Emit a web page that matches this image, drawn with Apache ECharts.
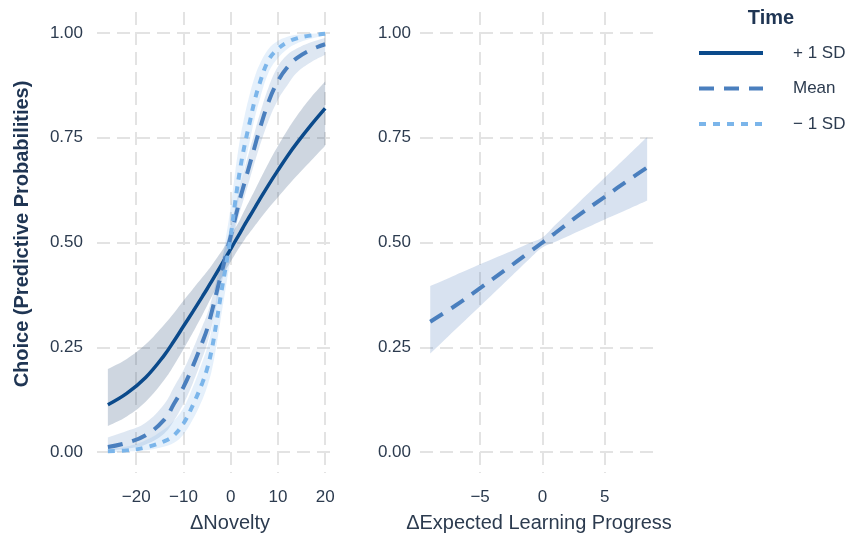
<!DOCTYPE html>
<html>
<head>
<meta charset="utf-8">
<script src="https://cdn.jsdelivr.net/npm/echarts@6/dist/echarts.min.js"></script>
<style>
  html, body { margin: 0; padding: 0; background: #ffffff; }
  #chart { width: 846px; height: 536px; }
</style>
</head>
<body>
<div id="chart"></div>
<script>
// ΔNovelty panel: predicted choice probability at three levels of Time
const noveltyX = [-26, -22, -18, -14, -12, -10, -8, -6, -5, -4, -3, -2, -1, 0, 1, 2, 3, 4, 5, 6, 8, 10, 12, 14, 17, 20];

const plusSD      = [0.113, 0.140, 0.178, 0.232, 0.265, 0.300, 0.335, 0.371, 0.389, 0.408, 0.427, 0.446, 0.465, 0.484, 0.504, 0.523, 0.543, 0.562, 0.581, 0.600, 0.637, 0.672, 0.706, 0.737, 0.780, 0.820];
const plusSDLower = [0.062, 0.085, 0.120, 0.173, 0.207, 0.245, 0.285, 0.327, 0.349, 0.371, 0.393, 0.414, 0.435, 0.454, 0.473, 0.491, 0.508, 0.523, 0.538, 0.553, 0.582, 0.608, 0.634, 0.659, 0.695, 0.731];
const plusSDUpper = [0.198, 0.222, 0.257, 0.305, 0.332, 0.361, 0.389, 0.417, 0.431, 0.446, 0.462, 0.478, 0.496, 0.514, 0.535, 0.555, 0.578, 0.600, 0.622, 0.645, 0.689, 0.730, 0.768, 0.802, 0.846, 0.884];

const meanNov      = [0.012, 0.022, 0.040, 0.078, 0.115, 0.155, 0.205, 0.262, 0.293, 0.335, 0.380, 0.425, 0.470, 0.515, 0.560, 0.605, 0.645, 0.685, 0.725, 0.765, 0.835, 0.885, 0.918, 0.940, 0.960, 0.973];
const meanNovLower = [0.004, 0.008, 0.018, 0.045, 0.075, 0.115, 0.165, 0.225, 0.258, 0.300, 0.350, 0.400, 0.445, 0.490, 0.533, 0.575, 0.612, 0.650, 0.688, 0.725, 0.790, 0.840, 0.875, 0.905, 0.930, 0.948];
const meanNovUpper = [0.035, 0.050, 0.070, 0.115, 0.155, 0.195, 0.245, 0.300, 0.328, 0.365, 0.410, 0.452, 0.495, 0.540, 0.587, 0.635, 0.678, 0.720, 0.760, 0.800, 0.870, 0.920, 0.948, 0.963, 0.978, 0.988];

const minusSD      = [0.002, 0.004, 0.011, 0.026, 0.040, 0.068, 0.112, 0.165, 0.198, 0.245, 0.310, 0.380, 0.445, 0.515, 0.600, 0.675, 0.735, 0.785, 0.835, 0.875, 0.935, 0.962, 0.978, 0.987, 0.994, 0.998];
const minusSDLower = [0.000, 0.001, 0.004, 0.013, 0.022, 0.042, 0.078, 0.125, 0.155, 0.195, 0.255, 0.325, 0.395, 0.465, 0.550, 0.625, 0.685, 0.740, 0.792, 0.835, 0.905, 0.940, 0.962, 0.975, 0.986, 0.994];
const minusSDUpper = [0.008, 0.013, 0.028, 0.055, 0.075, 0.105, 0.155, 0.215, 0.248, 0.295, 0.370, 0.445, 0.512, 0.585, 0.672, 0.748, 0.805, 0.852, 0.892, 0.922, 0.962, 0.981, 0.991, 0.996, 0.998, 1.000];

// ΔExpected Learning Progress panel (Time at its mean)
const elpX     = [-9, -7, -5, -3, -1, 0, 1, 3, 5, 7, 8.4];
const elpMean  = [0.311, 0.349, 0.391, 0.434, 0.478, 0.500, 0.522, 0.567, 0.609, 0.651, 0.679];
const elpLower = [0.235, 0.292, 0.348, 0.405, 0.462, 0.488, 0.501, 0.528, 0.555, 0.581, 0.600];
const elpUpper = [0.396, 0.422, 0.448, 0.473, 0.499, 0.512, 0.541, 0.598, 0.655, 0.712, 0.752];

// Tick labels
const yTicks       = [0, 0.25, 0.5, 0.75, 1];
const noveltyTicks = [-20, -10, 0, 10, 20];
const elpTicks     = [-5, 0, 5];
const legendNames  = ['+ 1 SD', 'Mean', '\u2212 1 SD'];

const FONT = '"Liberation Sans", Arial, Helvetica, sans-serif';
const TEXT = '#2c3b4f';
const TITLE = '#1f3553';
const GRID = { color: '#e3e3e3', width: 2, type: [13, 7] };

const COL_PLUS = '#0b4a8b';
const COL_MEAN = '#4a7fbe';
const COL_MINUS = '#7bb5ea';

const SMOOTH = 0.4;

function pairs(xs, ys) { return xs.map((x, i) => [x, ys[i]]); }

// Smooth open curve through pixel points (same tangent rule as ECharts' line smoothing)
function curvePath(pts, moveFirst) {
  const n = pts.length;
  let d = (moveFirst ? 'M' : 'L') + pts[0][0] + ' ' + pts[0][1];
  const cpPrev = [], cpNext = [];
  for (let i = 0; i < n; i++) {
    const p = pts[i];
    const prev = pts[Math.max(i - 1, 0)];
    const next = pts[Math.min(i + 1, n - 1)];
    const vx = next[0] - prev[0], vy = next[1] - prev[1];
    const lp = Math.hypot(p[0] - prev[0], p[1] - prev[1]);
    const ln = Math.hypot(next[0] - p[0], next[1] - p[1]);
    const r = (lp + ln) > 0 ? ln / (lp + ln) : 0.5;
    cpNext[i] = [p[0] + vx * SMOOTH * r, p[1] + vy * SMOOTH * r];
    cpPrev[i] = [p[0] - vx * SMOOTH * (1 - r), p[1] - vy * SMOOTH * (1 - r)];
  }
  for (let i = 0; i < n - 1; i++) {
    const a = cpNext[i], b = cpPrev[i + 1], q = pts[i + 1];
    d += 'C' + a[0] + ' ' + a[1] + ' ' + b[0] + ' ' + b[1] + ' ' + q[0] + ' ' + q[1];
  }
  return d;
}

// Confidence ribbon: a custom series whose first item draws the whole band
function band(gi, xs, lo, hi, fill) {
  return {
    type: 'custom', xAxisIndex: gi, yAxisIndex: gi, silent: true, z: 1,
    data: xs.map((x, i) => [x, lo[i], hi[i]]),
    encode: { x: 0, y: [1, 2] },
    renderItem: function (params, api) {
      if (params.dataIndex !== 0) return null;
      const upper = xs.map((x, i) => api.coord([x, hi[i]]));
      const lower = xs.map((x, i) => api.coord([x, lo[i]])).reverse();
      const d = curvePath(upper, true) + curvePath(lower, false) + 'Z';
      return { type: 'path', shape: { pathData: d }, style: { fill: fill, stroke: null } };
    }
  };
}

function curve(name, gi, xs, ys, color, width, dash) {
  return {
    name: name, type: 'line', xAxisIndex: gi, yAxisIndex: gi, data: pairs(xs, ys),
    symbol: 'none', showSymbol: false, smooth: SMOOTH, z: 3,
    itemStyle: { color: color },
    lineStyle: { color: color, width: width, type: dash, cap: 'butt' }
  };
}

function xAxisFor(gi, min, max, ticks) {
  return {
    type: 'value', gridIndex: gi, min: min, max: max,
    axisLine: { show: false },
    axisTick: { show: false, customValues: ticks },
    axisLabel: {
      customValues: ticks, margin: 16, fontSize: 17, color: TEXT, fontFamily: FONT,
      formatter: v => String(v).replace('-', '\u2212')
    },
    splitLine: { show: true, lineStyle: GRID }
  };
}

function yAxisFor(gi, margin) {
  return {
    type: 'value', gridIndex: gi, min: -0.05, max: 1.05,
    axisLine: { show: false },
    axisTick: { show: false, customValues: yTicks },
    axisLabel: {
      customValues: yTicks, margin: margin, fontSize: 17, color: TEXT, fontFamily: FONT,
      formatter: v => v.toFixed(2)
    },
    splitLine: { show: true, lineStyle: GRID }
  };
}

const chart = echarts.init(document.getElementById('chart'), null, { renderer: 'canvas' });

chart.setOption({
  animation: false,
  backgroundColor: '#ffffff',
  grid: [
    { left: 97, top: 12, width: 239, height: 461 },
    { left: 420, top: 12, width: 238, height: 461 }
  ],
  xAxis: [
    xAxisFor(0, -28.3, 22.3, noveltyTicks),
    xAxisFor(1, -9.82, 9.27, elpTicks)
  ],
  yAxis: [
    yAxisFor(0, 14),
    yAxisFor(1, 9)
  ],
  legend: {
    data: legendNames,
    orient: 'vertical',
    left: 692, top: 38,
    itemWidth: 64, itemHeight: 14, itemGap: 15.5,
    selectedMode: false,
    itemStyle: { color: 'rgba(0,0,0,0)', opacity: 0, borderWidth: 0 },
    lineStyle: { width: 4 },
    textStyle: { fontFamily: FONT, fontSize: 17, color: TEXT, lineHeight: 20, padding: [0, 0, 0, 25] }
  },
  graphic: [
    {
      type: 'text', x: 22, y: 234, rotation: Math.PI / 2, silent: true,
      style: { text: 'Choice (Predictive Probabilities)', font: 'bold 20px ' + FONT, fill: TITLE, align: 'center', verticalAlign: 'middle' }
    },
    {
      type: 'text', x: 230, y: 523, silent: true,
      style: { text: '\u0394Novelty', font: '20px ' + FONT, fill: TEXT, align: 'center', verticalAlign: 'middle' }
    },
    {
      type: 'text', x: 539, y: 523, silent: true,
      style: { text: '\u0394Expected Learning Progress', font: '20px ' + FONT, fill: TEXT, align: 'center', verticalAlign: 'middle' }
    },
    {
      type: 'text', x: 771, y: 18, silent: true,
      style: { text: 'Time', font: 'bold 20px ' + FONT, fill: TITLE, align: 'center', verticalAlign: 'middle' }
    }
  ],
  series: [
    band(0, noveltyX, plusSDLower, plusSDUpper, 'rgba(25,60,110,0.21)'),
    band(0, noveltyX, meanNovLower, meanNovUpper, 'rgba(60,110,180,0.17)'),
    band(0, noveltyX, minusSDLower, minusSDUpper, 'rgba(110,170,235,0.18)'),
    band(1, elpX, elpLower, elpUpper, 'rgba(60,110,180,0.20)'),
    curve(legendNames[0], 0, noveltyX, plusSD, COL_PLUS, 3.5, 'solid'),
    curve(legendNames[1], 0, noveltyX, meanNov, COL_MEAN, 4, [15, 10]),
    curve(legendNames[2], 0, noveltyX, minusSD, COL_MINUS, 4, [7, 7]),
    curve(legendNames[1], 1, elpX, elpMean, COL_MEAN, 4, [15, 10])
  ]
});
</script>
</body>
</html>
